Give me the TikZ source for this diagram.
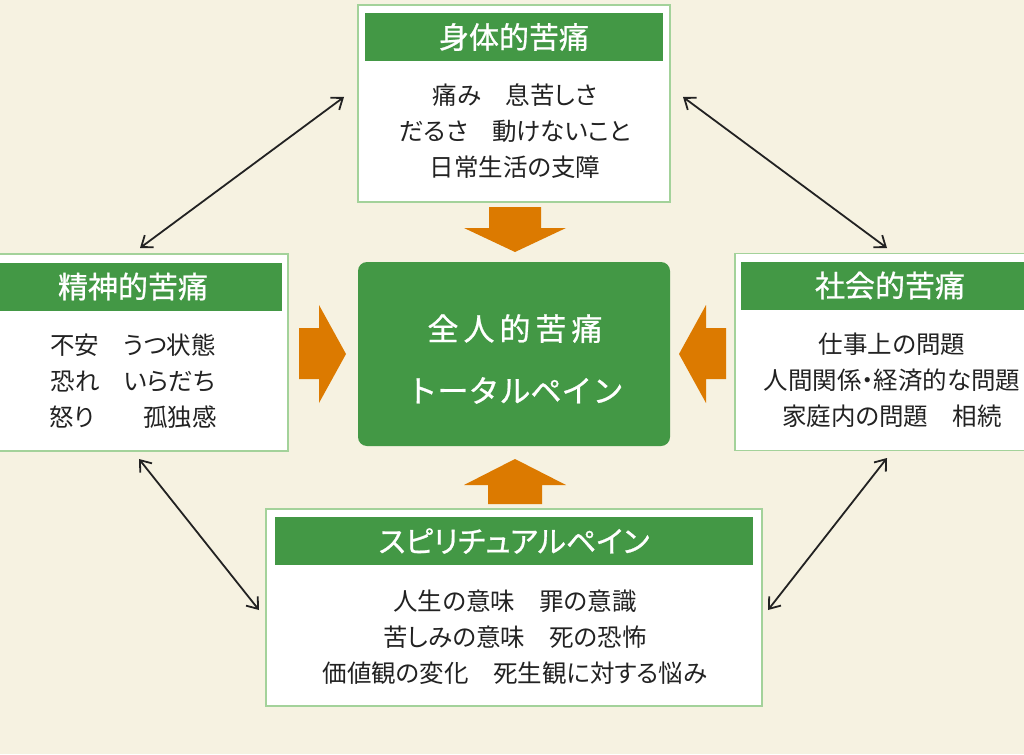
\documentclass[tikz,border=0pt]{standalone}
\usepackage{fontspec}
\setmainfont[RawFeature={+palt}]{Noto Sans CJK JP}
\newfontfamily\jpbold[FakeBold=0.8,RawFeature={+palt}]{Noto Sans CJK JP}
\newfontfamily\jpboldnp[FakeBold=0.8]{Noto Sans CJK JP}
\usetikzlibrary{arrows.meta,calc}
\definecolor{bg}{HTML}{F6F2E1}
\definecolor{pgreen}{HTML}{439845}
\definecolor{pborder}{HTML}{A3D29A}
\definecolor{porange}{HTML}{DC7A00}
\definecolor{ptext}{HTML}{222222}
\tikzset{
  panel/.style={draw=pborder, line width=1.5pt, fill=white, minimum height=197pt, inner sep=0pt},
  head/.style={fill=pgreen, minimum height=48pt, inner sep=0pt, text=white,
    font=\jpbold\fontsize{30pt}{32pt}\selectfont},
  bodytext/.style={align=center, text=ptext, inner sep=0pt,
    font=\fontsize{24.5pt}{36pt}\selectfont},
  corebox/.style={fill=pgreen, rounded corners=9pt, minimum width=312pt, minimum height=184pt,
    inner sep=0pt},
  coretext/.style={align=center, text=white, inner sep=0pt,
    font=\jpboldnp\fontsize{31pt}{62pt}\selectfont},
  bigarrow/.style={fill=porange},
  dbl/.style={{Straight Barb[length=10pt,width=15pt]}-{Straight Barb[length=10pt,width=15pt]},
    line width=1.8pt, draw=ptext}
}
\begin{document}
\begin{tikzpicture}[x=1pt,y=-1pt]
\useasboundingbox (0,0) rectangle (1024,754);
\fill[bg] (0,0) rectangle (1024,754);

% top
\node[panel, minimum width=312pt] (top) at (514,103.5) {};
\node[head, minimum width=298pt] (toph) at (514,37) {身体的苦痛};
\node[bodytext] (topt) at (515,131.5) {痛み　息苦しさ\\だるさ　動けないこと\\日常生活の支障};

% left
\node[panel, minimum width=310pt] (left) at (133,352.5) {};
\node[head, minimum width=298pt] (lefth) at (133,286.5) {精神的苦痛};
\node[bodytext] (leftt) at (133,381.5) {不安　うつ状態\\恐れ　いらだち\\怒り　　孤独感};

% right
\node[panel, minimum width=310pt] (right) at (890,352) {};
\node[head, minimum width=298pt] (righth) at (890,285.5) {社会的苦痛};
\node[bodytext] (rightt) at (892,380.5) {仕事上の問題\\人間関係・経済的な問題\\家庭内の問題　相続};

% bottom
\node[panel, minimum width=496pt] (bottom) at (514,607.5) {};
\node[head, minimum width=478pt] (bottomh) at (514,541) {スピリチュアルペイン};
\node[bodytext] (bottomt) at (515,637) {人生の意味　罪の意識\\苦しみの意味　死の恐怖\\価値観の変化　死生観に対する悩み};

% center
\node[corebox] (core) at (514,354) {};
\node[coretext] (coret) at (515,359) {全\kern5pt 人\kern5pt 的\kern5pt 苦\kern5pt 痛\\トータルペイン};

% orange arrows
\fill[bigarrow] (489,207) -- (541,207) -- (541,228) -- (566,228) -- (515,252) -- (464,228) -- (489,228) -- cycle;
\fill[bigarrow] (488,504) -- (542,504) -- (542,485) -- (566,485) -- (515,459) -- (464,485) -- (488,485) -- cycle;
\fill[bigarrow] (299,328) -- (319,328) -- (319,305) -- (346,354) -- (319,403) -- (319,379) -- (299,379) -- cycle;
\fill[bigarrow] (726,328) -- (706,328) -- (706,305) -- (679,354) -- (706,403) -- (706,379) -- (726,379) -- cycle;

% double arrows
\coordinate (tla) at (344,97);
\coordinate (tlb) at (140,248);
\coordinate (tra) at (683,97);
\coordinate (trb) at (887,248);
\coordinate (bla) at (139,459);
\coordinate (blb) at (259,610);
\coordinate (bra) at (887,458);
\coordinate (brb) at (768,610);
\draw[dbl] (tla) -- (tlb);
\draw[dbl] (tra) -- (trb);
\draw[dbl] (bla) -- (blb);
\draw[dbl] (bra) -- (brb);
\end{tikzpicture}
\end{document}
